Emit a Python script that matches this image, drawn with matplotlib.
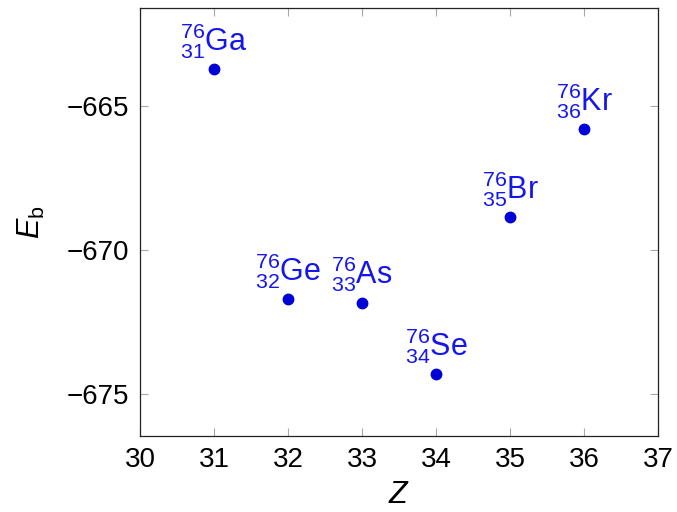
import matplotlib
matplotlib.use("Agg")
import matplotlib.pyplot as plt

Z = [31, 32, 33, 34, 35, 36]
Eb = [-663.72, -671.71, -671.82, -674.30, -668.86, -665.81]
elements = ["Ga", "Ge", "As", "Se", "Br", "Kr"]
A = 76
xticks = [30, 31, 32, 33, 34, 35, 36, 37]
yticks = [-675, -670, -665]

plt.rcParams["font.family"] = ["Liberation Sans", "DejaVu Sans"]
plt.rcParams["mathtext.fontset"] = "custom"
plt.rcParams["mathtext.rm"] = "Liberation Sans"
plt.rcParams["mathtext.it"] = "Liberation Sans:italic"
plt.rcParams["mathtext.bf"] = "Liberation Sans:bold"
plt.rcParams["axes.unicode_minus"] = True

fig = plt.figure(figsize=(6.77, 5.12), dpi=100)
ax = fig.add_axes([0.2068, 0.1484, 0.972 - 0.2068, 0.984 - 0.1484])

ax.plot(Z, Eb, "o", color="#0000d8", markersize=7.5, linestyle="none")
for z, e, el in zip(Z, Eb, elements):
    ax.annotate(r"${}^{%d}_{%d}\mathrm{%s}$" % (A, z, el), (z, e),
                xytext=(0, 6), textcoords="offset points",
                ha="center", va="bottom", fontsize=22, color="#1515ee")

ax.set_xlim(30, 37)
ax.set_ylim(-676.45, -661.60)
ax.set_xticks(xticks)
ax.set_yticks(yticks)
ax.tick_params(direction="in", length=6, width=0.8, color="#a8a8a8",
               top=True, right=True, labelsize=20, pad=8)
for s in ax.spines.values():
    s.set_color("#222222")
    s.set_linewidth(0.9)

ax.set_xlabel(r"$Z$", fontsize=22, labelpad=5)
ax.set_ylabel(r"$E_\mathrm{b}$", fontsize=22, labelpad=14)

fig.savefig("out.png", dpi=100)
